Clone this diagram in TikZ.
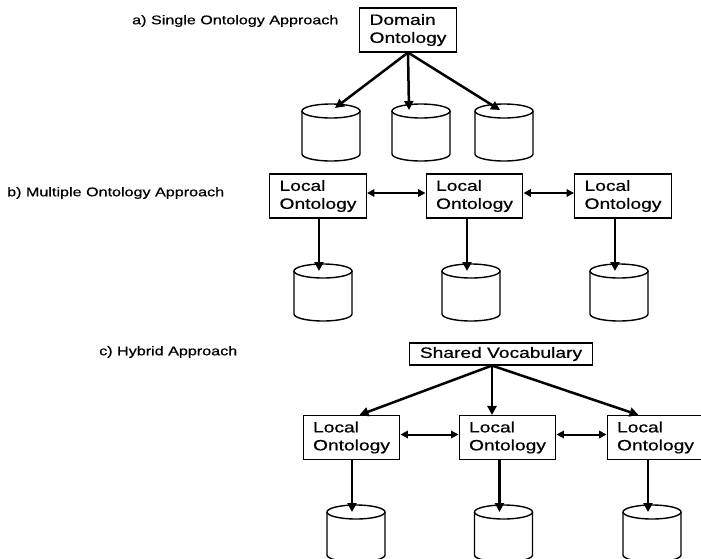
\documentclass[tikz,border=0pt]{standalone}
\usepackage{fontspec}
\setmainfont{Liberation Sans}[FakeStretch=1.28,FakeBold=0.6]
\usepackage{tikz}
\usetikzlibrary{arrows.meta,positioning}
\definecolor{InkBlack}{HTML}{000000}
\tikzset{
  onto/.style={draw=InkBlack,line width=1.1pt,align=left,inner xsep=10pt,
               minimum height=44pt,font=\fontsize{15}{18}\selectfont},
  vocab/.style={draw=InkBlack,line width=1.1pt,inner xsep=10pt,
                minimum height=22pt,font=\fontsize{15}{18}\selectfont},
  caption/.style={anchor=west,inner sep=0pt,font=\fontsize{12.6}{15}\selectfont},
  feed/.style={line width=2.5pt,-{Triangle[length=9pt,width=9pt]}},
  peer/.style={line width=2pt,{Triangle[length=7.5pt,width=7.5pt]}-{Triangle[length=7.5pt,width=7.5pt]}},
  dbline/.style={line width=1.4pt},
  db/.pic={
    \draw[dbline] (-29,0) -- (-29,43)
      arc[start angle=180,end angle=360,x radius=29pt,y radius=7pt] -- (29,0);
    \draw[dbline,fill=white] (0,0) ellipse[x radius=29pt,y radius=7pt];
    \coordinate (-top) at (0,0);
    \coordinate (-in) at (-4,0);
  }
}
\begin{document}
\begin{tikzpicture}[x=1pt,y=-1pt]
    \useasboundingbox[fill=white] (0,0) rectangle (701,558);
    % a) single ontology
    \node[caption] (capa) at (132,21) {a) Single Ontology Approach};
    \node[onto] (dom) at (408,30) {Domain\\Ontology};
    \pic (a1) at (331,111) {db};
    \pic (a2) at (421,111) {db};
    \pic (a3) at (504,111) {db};
    \draw[feed] (dom.south) -- ([xshift=4pt,yshift=3pt]a1-top);
    \draw[feed] (dom.south) -- ([xshift=-12pt,yshift=1pt]a2-top);
    \draw[feed] (dom.south) -- ([xshift=-4pt,yshift=1pt]a3-top);
    % b) multiple ontologies
    \node[caption] (capb) at (7,193) {b) Multiple Ontology Approach};
    \node[onto] (lb1) at (318,196) {Local\\Ontology};
    \node[onto] (lb2) at (474.5,196) {Local\\Ontology};
    \node[onto] (lb3) at (623,196) {Local\\Ontology};
    \pic (b1) at (323,271) {db};
    \pic (b2) at (471,271) {db};
    \pic (b3) at (619,271) {db};
    \draw[peer] ([yshift=3pt]lb1.east) -- ([yshift=3pt]lb2.west);
    \draw[peer] ([yshift=3pt]lb2.east) -- ([yshift=3pt]lb3.west);
    \foreach \k in {1,2,3}
      \draw[feed] (lb\k.south -| b\k-in) -- (b\k-in);
    % c) hybrid
    \node[caption] (capc) at (99,352) {c) Hybrid Approach};
    \node[vocab] (shv) at (501,354) {Shared Vocabulary};
    \node[onto] (lc1) at (351.5,437.5) {Local\\Ontology};
    \node[onto] (lc2) at (507.5,437.5) {Local\\Ontology};
    \node[onto] (lc3) at (655.5,437.5) {Local\\Ontology};
    \coordinate (svf) at ([xshift=-9pt]shv.south);
    \draw[feed] (svf) -- ([xshift=8pt]lc1.north);
    \draw[feed] (svf) -- (svf |- lc2.north);
    \draw[feed] (svf) -- ([xshift=-17pt]lc3.north);
    \draw[peer] ([yshift=3pt]lc1.east) -- ([yshift=3pt]lc2.west);
    \draw[peer] ([yshift=3pt]lc2.east) -- ([yshift=3pt]lc3.west);
    \pic (c1) at (356,512) {db};
    \pic (c2) at (503.5,512) {db};
    \pic (c3) at (652,512) {db};
    \foreach \k in {1,2,3}
      \draw[feed] (lc\k.south -| c\k-in) -- (c\k-in);
  \end{tikzpicture}
\end{document}
